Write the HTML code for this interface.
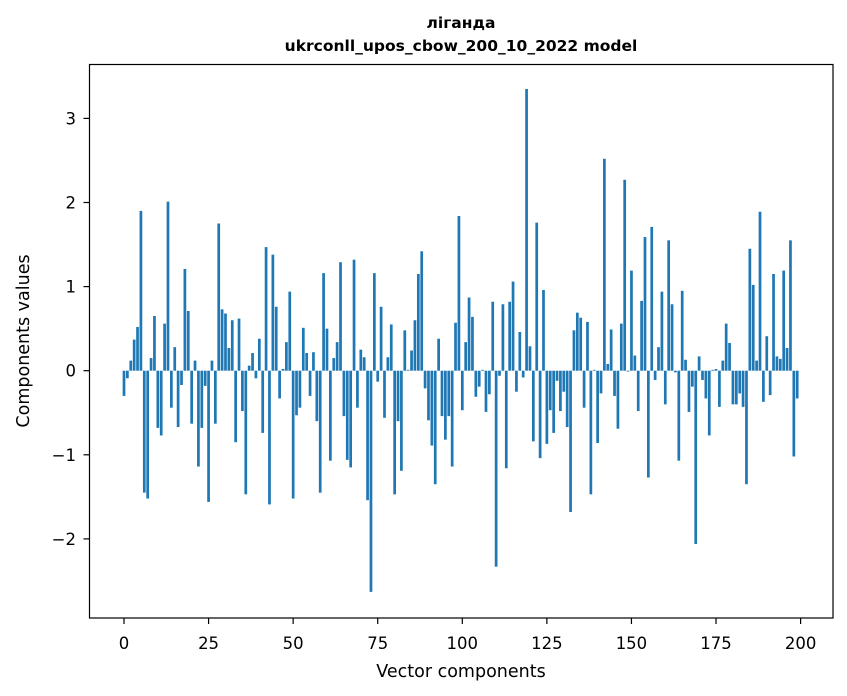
<!DOCTYPE html>
<html><head><meta charset="utf-8">
<style>
html,body{margin:0;padding:0;background:#fff;}
svg{display:block;font-family:"DejaVu Sans","Liberation Sans",sans-serif;}
</style></head>
<body>
<svg id="chart" width="847" height="696" viewBox="0 0 847 696" xmlns="http://www.w3.org/2000/svg">
<rect x="0" y="0" width="847" height="696" fill="#fff"/>
<text x="461" y="28" text-anchor="middle" font-size="15.5" font-weight="bold" fill="#000">лігандa</text>
<text x="461" y="51" text-anchor="middle" font-size="15.5" font-weight="bold" fill="#000">ukrconll_upos_cbow_200_10_2022 model</text>
<g id="bars"></g>
<g id="axes"></g>
<text x="461" y="677" text-anchor="middle" font-size="17.5" fill="#000">Vector components</text>
<text transform="translate(29,341) rotate(-90)" text-anchor="middle" font-size="17.5" fill="#000">Components values</text>
</svg>
<script>
const values = [
-0.30,-0.09,0.12,0.37,0.52,1.90,-1.45,-1.52,0.15,0.65,
-0.68,-0.77,0.56,2.01,-0.44,0.28,-0.67,-0.17,1.21,0.71,
-0.63,0.12,-1.14,-0.68,-0.18,-1.56,0.12,-0.63,1.75,0.73,
0.68,0.27,0.60,-0.85,0.62,-0.48,-1.47,0.06,0.21,-0.09,
0.38,-0.74,1.47,-1.59,1.38,0.76,-0.33,0.02,0.34,0.94,
-1.52,-0.53,-0.44,0.51,0.21,-0.30,0.22,-0.60,-1.45,1.16,
0.50,-1.07,0.15,0.34,1.29,-0.54,-1.06,-1.15,1.32,-0.44,
0.25,0.16,-1.54,-2.63,1.16,-0.13,0.76,-0.56,0.16,0.55,
-1.47,-0.60,-1.19,0.48,0.01,0.24,0.60,1.15,1.42,-0.21,
-0.59,-0.89,-1.35,0.38,-0.54,-0.82,-0.54,-1.14,0.57,1.84,
-0.47,0.34,0.87,0.64,-0.31,-0.19,0.01,-0.49,-0.28,0.82,
-2.33,-0.06,0.79,-1.16,0.82,1.06,-0.25,0.46,-0.08,3.35,
0.29,-0.84,1.76,-1.04,0.96,-0.87,-0.47,-0.74,-0.12,-0.48,
-0.25,-0.67,-1.68,0.48,0.69,0.63,-0.44,0.58,-1.47,0.01,
-0.86,-0.27,2.52,0.08,0.49,-0.30,-0.69,0.56,2.27,-0.01,
1.19,0.18,-0.48,0.83,1.59,-1.27,1.71,-0.11,0.28,0.94,
-0.40,1.55,0.79,-0.02,-1.07,0.95,0.13,-0.49,-0.19,-2.06,
0.17,-0.11,-0.33,-0.77,0.01,0.02,-0.43,0.12,0.56,0.33,
-0.40,-0.40,-0.27,-0.43,-1.35,1.45,1.02,0.12,1.89,-0.37,
0.41,-0.29,1.15,0.17,0.14,1.19,0.27,1.55,-1.02,-0.33
];
const xTicks = [0,25,50,75,100,125,150,175,200];
const yTicks = [-2,-1,0,1,2,3];

const X0 = 124, XS = 3.383;
const Y0 = 370.7, YS = 84.1;
const xScale = v => X0 + v * XS;
const yScale = v => Y0 - v * YS;
const NS = "http://www.w3.org/2000/svg";
const barsG = document.getElementById('bars');
const axesG = document.getElementById('axes');

values.forEach((v, i) => {
  const r = document.createElementNS(NS, 'rect');
  const x = xScale(i - 0.4);
  const y1 = yScale(Math.max(v, 0)), y2 = yScale(Math.min(v, 0));
  r.setAttribute('x', x.toFixed(2));
  r.setAttribute('y', y1.toFixed(2));
  r.setAttribute('width', (0.8 * XS).toFixed(2));
  r.setAttribute('height', Math.max(y2 - y1, 0.3).toFixed(2));
  r.setAttribute('fill', '#1f77b4');
  
  
  barsG.appendChild(r);
});

const frame = document.createElementNS(NS, 'rect');
frame.setAttribute('x', 89.5); frame.setAttribute('y', 64.5);
frame.setAttribute('width', 743.5); frame.setAttribute('height', 553.5);
frame.setAttribute('fill', 'none'); frame.setAttribute('stroke', '#000'); frame.setAttribute('stroke-width', '1.2');


axesG.appendChild(frame);

xTicks.forEach(t => {
  const x = xScale(t);
  const l = document.createElementNS(NS, 'line');
  l.setAttribute('x1', x); l.setAttribute('x2', x);
  l.setAttribute('y1', 618); l.setAttribute('y2', 624);
  l.setAttribute('stroke', '#000'); l.setAttribute('stroke-width', '1.2');
  
  
  axesG.appendChild(l);
  const tx = document.createElementNS(NS, 'text');
  tx.setAttribute('x', x); tx.setAttribute('y', 649);
  tx.setAttribute('text-anchor', 'middle'); tx.setAttribute('font-size', '16.5');
  tx.textContent = String(t);
  
  
  axesG.appendChild(tx);
});

yTicks.forEach(t => {
  const y = yScale(t);
  const l = document.createElementNS(NS, 'line');
  l.setAttribute('x1', 83.5); l.setAttribute('x2', 89.5);
  l.setAttribute('y1', y); l.setAttribute('y2', y);
  l.setAttribute('stroke', '#000'); l.setAttribute('stroke-width', '1.2');
  
  
  axesG.appendChild(l);
  const tx = document.createElementNS(NS, 'text');
  tx.setAttribute('x', 76); tx.setAttribute('y', y + 6);
  tx.setAttribute('text-anchor', 'end'); tx.setAttribute('font-size', '16.5');
  tx.textContent = t < 0 ? '\u2212' + Math.abs(t) : String(t);
  
  
  axesG.appendChild(tx);
});
</script>
</body></html>
